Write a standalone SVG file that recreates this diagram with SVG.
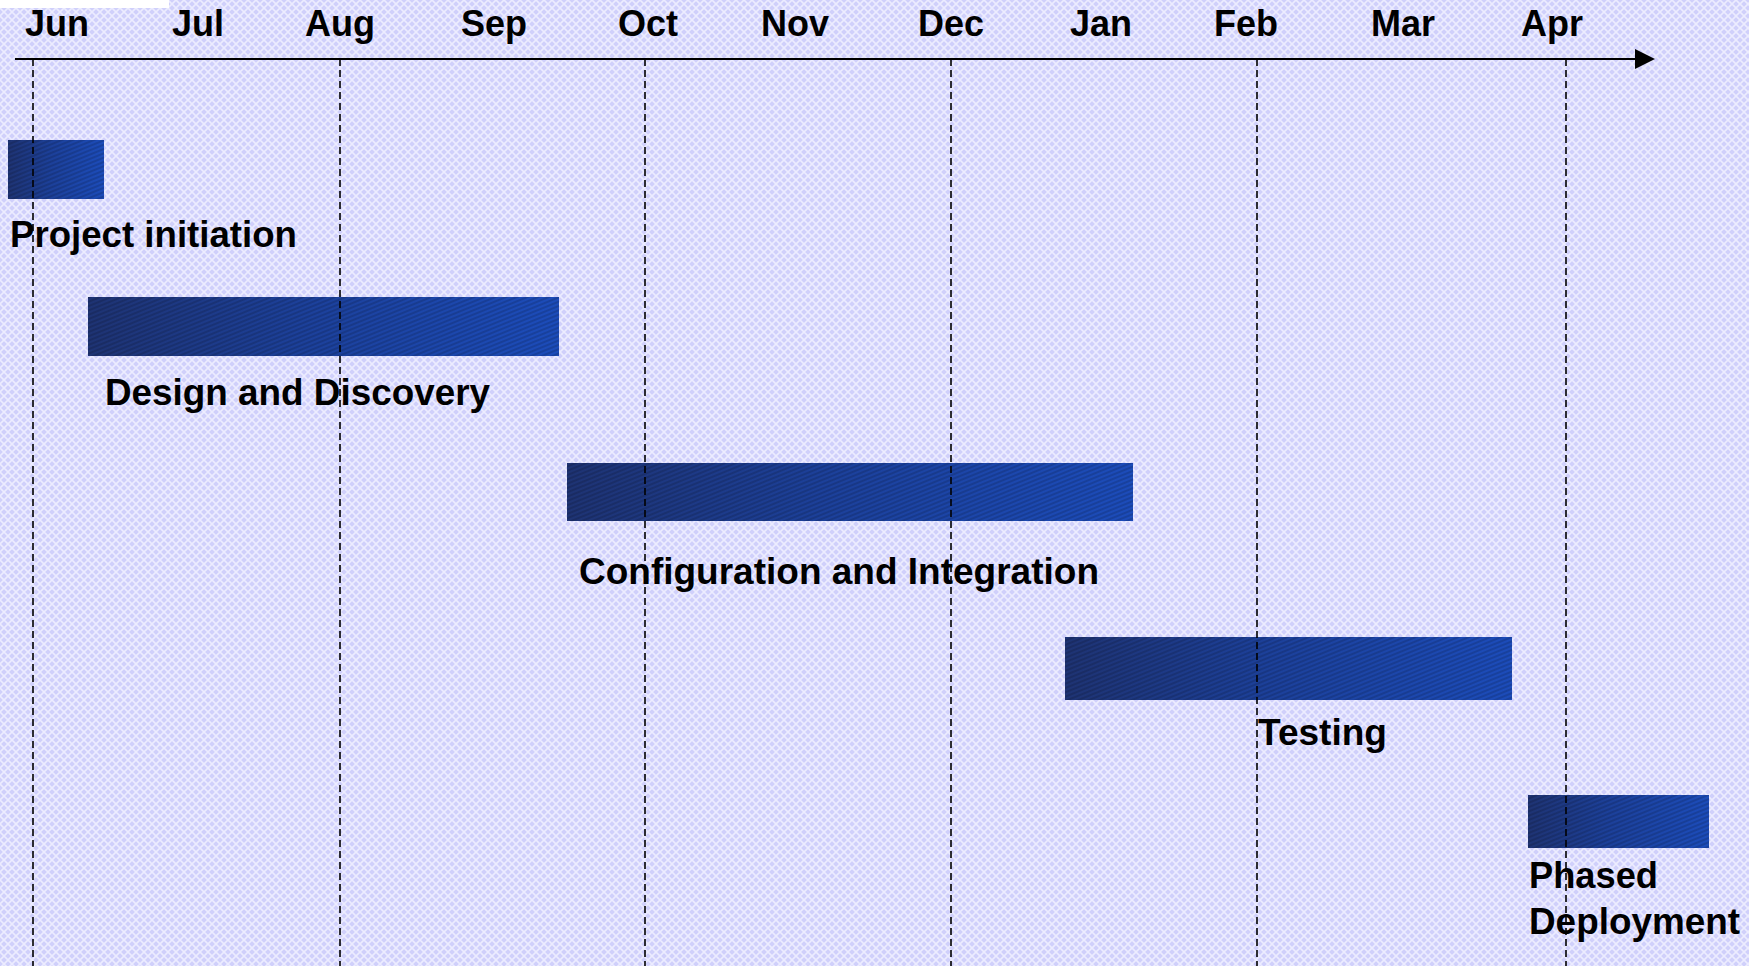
<svg xmlns="http://www.w3.org/2000/svg" width="1749" height="966" viewBox="0 0 1749 966">
  <defs>
    <!-- lavender crosshatch backdrop -->
    <pattern id="hatch" width="8" height="8" patternUnits="userSpaceOnUse">
      <rect width="8" height="8" fill="#d0d0fb"/>
      <path d="M0,0 L8,8 M8,0 L0,8" stroke="#ececff" stroke-width="1.6"/>
      <path d="M-1,1 L1,-1 M7,9 L9,7 M-1,7 L1,9 M7,-1 L9,1" stroke="#ececff" stroke-width="1.6"/>
    </pattern>
    <!-- bar shading: dark navy to royal blue -->
    <linearGradient id="barGrad" x1="0" y1="0" x2="1" y2="0">
      <stop offset="0" stop-color="#1e3373"/>
      <stop offset="0.45" stop-color="#1c409a"/>
      <stop offset="1" stop-color="#1c4cba"/>
    </linearGradient>
    <pattern id="stripes" width="6" height="4" patternUnits="userSpaceOnUse" patternTransform="rotate(-22)">
      <rect width="6" height="2" fill="#000" fill-opacity="0.15"/>
    </pattern>
    <marker id="arrow" viewBox="0 0 20 20" refX="0" refY="10" markerWidth="20" markerHeight="20" markerUnits="userSpaceOnUse" orient="auto">
      <path d="M0,0 L20,10 L0,20 Z" fill="#000"/>
    </marker>
  </defs>
  <style>
    .month { font-family: "Liberation Sans", Arial, sans-serif; font-weight: bold; font-size: 36px; fill: #000; text-anchor: middle; }
    .label { font-family: "Liberation Sans", Arial, sans-serif; font-weight: bold; font-size: 36px; fill: #000; }
    .grid { stroke: #000; stroke-width: 1.6; stroke-dasharray: 7 4; fill: none; }
    .axis { stroke: #000; stroke-width: 2; fill: none; }
  </style>

  <!-- backdrop -->
  <rect x="0" y="0" width="1749" height="966" fill="url(#hatch)"/>
  <rect x="0" y="0" width="169" height="8" fill="#ffffff"/>

  <!-- month scale -->
  <g id="months">
    <text class="month" x="57" y="36">Jun</text>
    <text class="month" x="198" y="36">Jul</text>
    <text class="month" x="340" y="36">Aug</text>
    <text class="month" x="494" y="36">Sep</text>
    <text class="month" x="648" y="36">Oct</text>
    <text class="month" x="795" y="36">Nov</text>
    <text class="month" x="951" y="36">Dec</text>
    <text class="month" x="1101" y="36">Jan</text>
    <text class="month" x="1246" y="36">Feb</text>
    <text class="month" x="1403" y="36">Mar</text>
    <text class="month" x="1552" y="36">Apr</text>
  </g>

  <!-- tasks -->
  <g id="task-initiation">
    <rect x="8" y="140" width="96" height="59" fill="url(#barGrad)"/>
    <rect x="8" y="140" width="96" height="59" fill="url(#stripes)"/>
    <text class="label" x="10" y="247" textLength="287" lengthAdjust="spacingAndGlyphs">Project initiation</text>
  </g>
  <g id="task-design">
    <rect x="88" y="297" width="471" height="59" fill="url(#barGrad)"/>
    <rect x="88" y="297" width="471" height="59" fill="url(#stripes)"/>
    <text class="label" x="105" y="405" textLength="385" lengthAdjust="spacingAndGlyphs">Design and Discovery</text>
  </g>
  <g id="task-configuration">
    <rect x="567" y="463" width="566" height="58" fill="url(#barGrad)"/>
    <rect x="567" y="463" width="566" height="58" fill="url(#stripes)"/>
    <text class="label" x="579" y="584" textLength="520" lengthAdjust="spacingAndGlyphs">Configuration and Integration</text>
  </g>
  <g id="task-testing">
    <rect x="1065" y="637" width="447" height="63" fill="url(#barGrad)"/>
    <rect x="1065" y="637" width="447" height="63" fill="url(#stripes)"/>
    <text class="label" x="1258" y="745" textLength="129" lengthAdjust="spacingAndGlyphs">Testing</text>
  </g>
  <g id="task-deployment">
    <rect x="1528" y="795" width="181" height="53" fill="url(#barGrad)"/>
    <rect x="1528" y="795" width="181" height="53" fill="url(#stripes)"/>
    <text class="label" x="1529" y="888" textLength="129" lengthAdjust="spacingAndGlyphs">Phased</text>
    <text class="label" x="1529" y="934" textLength="211" lengthAdjust="spacingAndGlyphs">Deployment</text>
  </g>

  <!-- time axis and month dividers -->
  <g id="connectors">
    <line class="axis" x1="15" y1="59" x2="1635" y2="59" marker-end="url(#arrow)"/>
    <line class="grid" x1="33" y1="59" x2="33" y2="966"/>
    <line class="grid" x1="340" y1="59" x2="340" y2="966"/>
    <line class="grid" x1="645" y1="59" x2="645" y2="966"/>
    <line class="grid" x1="951" y1="59" x2="951" y2="966"/>
    <line class="grid" x1="1257" y1="59" x2="1257" y2="966"/>
    <line class="grid" x1="1566" y1="59" x2="1566" y2="966"/>
  </g>
</svg>
